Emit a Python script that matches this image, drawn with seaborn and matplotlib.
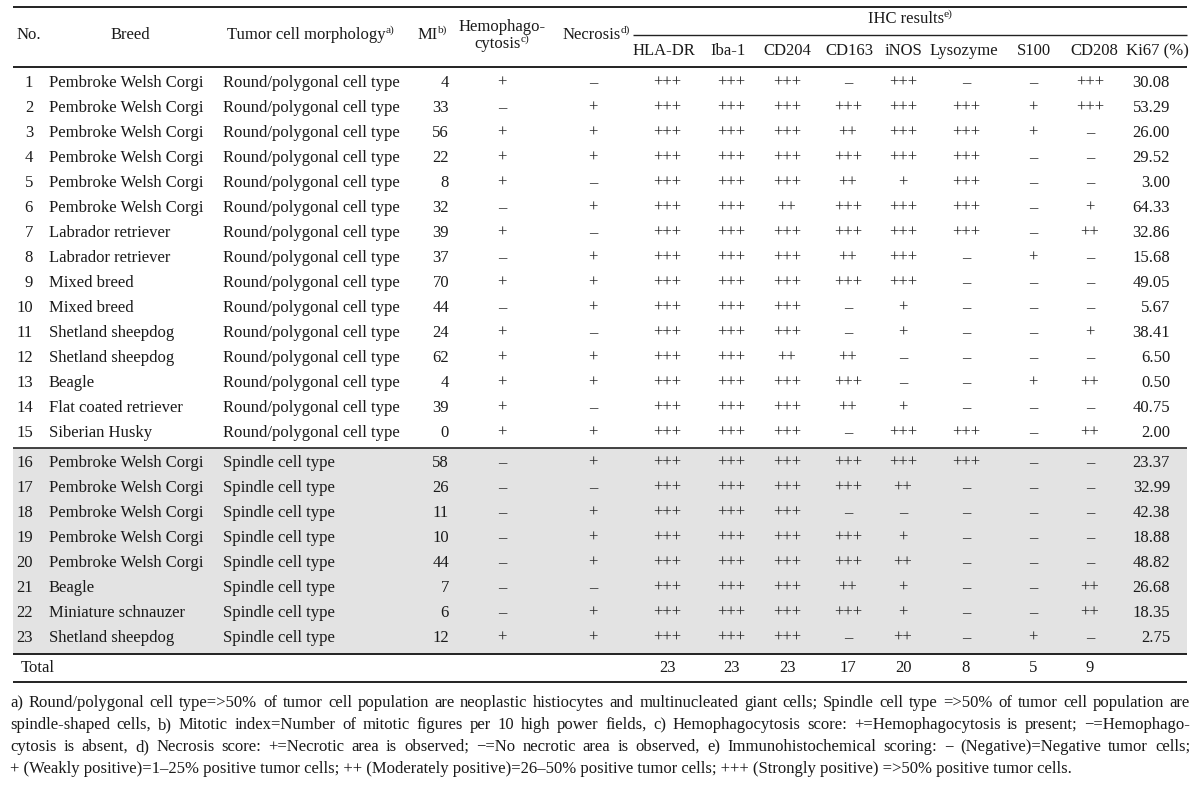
import matplotlib
matplotlib.use("Agg")
import matplotlib.pyplot as plt
import seaborn as sns
import pandas as pd
from matplotlib.patches import Rectangle

sns.set_theme(style="white")
plt.rcParams["font.family"] = ["Liberation Serif", "DejaVu Serif"]

# ---------------- data ----------------
case_no = [1, 2, 3, 4, 5, 6, 7, 8, 9, 10, 11, 12, 13, 14, 15, 16, 17, 18, 19, 20, 21, 22, 23]
breeds = ["Pembroke Welsh Corgi", "Pembroke Welsh Corgi", "Pembroke Welsh Corgi",
          "Pembroke Welsh Corgi", "Pembroke Welsh Corgi", "Pembroke Welsh Corgi",
          "Labrador retriever", "Labrador retriever", "Mixed breed", "Mixed breed",
          "Shetland sheepdog", "Shetland sheepdog", "Beagle", "Flat coated retriever",
          "Siberian Husky", "Pembroke Welsh Corgi", "Pembroke Welsh Corgi",
          "Pembroke Welsh Corgi", "Pembroke Welsh Corgi", "Pembroke Welsh Corgi",
          "Beagle", "Miniature schnauzer", "Shetland sheepdog"]
morphology = ["Round/polygonal cell type"] * 15 + ["Spindle cell type"] * 8
mitotic_index = [4, 33, 56, 22, 8, 32, 39, 37, 70, 44, 24, 62, 4, 39, 0,
                 58, 26, 11, 10, 44, 7, 6, 12]
hemophagocytosis = ["+", "–", "+", "+", "+", "–", "+", "–", "+", "–", "+", "+", "+", "+", "+",
                    "–", "–", "–", "–", "–", "–", "–", "+"]
necrosis = ["–", "+", "+", "+", "–", "+", "–", "+", "+", "+", "–", "+", "+", "–", "+",
            "+", "–", "+", "+", "+", "–", "+", "+"]
# IHC scores: 0 = –, 1 = +, 2 = ++, 3 = +++
hla_dr = [3, 3, 3, 3, 3, 3, 3, 3, 3, 3, 3, 3, 3, 3, 3, 3, 3, 3, 3, 3, 3, 3, 3]
iba1 = [3, 3, 3, 3, 3, 3, 3, 3, 3, 3, 3, 3, 3, 3, 3, 3, 3, 3, 3, 3, 3, 3, 3]
cd204 = [3, 3, 3, 3, 3, 2, 3, 3, 3, 3, 3, 2, 3, 3, 3, 3, 3, 3, 3, 3, 3, 3, 3]
cd163 = [0, 3, 2, 3, 2, 3, 3, 2, 3, 0, 0, 2, 3, 2, 0, 3, 3, 0, 3, 3, 2, 3, 0]
inos = [3, 3, 3, 3, 1, 3, 3, 3, 3, 1, 1, 0, 0, 1, 3, 3, 2, 0, 1, 2, 1, 1, 2]
lysozyme = [0, 3, 3, 3, 3, 3, 3, 0, 0, 0, 0, 0, 0, 0, 3, 3, 0, 0, 0, 0, 0, 0, 0]
s100 = [0, 1, 1, 0, 0, 0, 0, 1, 0, 0, 0, 0, 1, 0, 0, 0, 0, 0, 0, 0, 0, 0, 1]
cd208 = [3, 3, 0, 0, 0, 1, 2, 0, 0, 0, 1, 0, 2, 0, 2, 0, 0, 0, 0, 0, 2, 2, 0]
ki67 = [30.08, 53.29, 26.00, 29.52, 3.00, 64.33, 32.86, 15.68, 49.05, 5.67, 38.41, 6.50,
        0.50, 40.75, 2.00, 23.37, 32.99, 42.38, 18.88, 48.82, 26.68, 18.35, 2.75]
ihc_markers = ["HLA-DR", "Iba-1", "CD204", "CD163", "iNOS", "Lysozyme", "S100", "CD208"]
ihc_totals = [23, 23, 23, 17, 20, 8, 5, 9]
score_symbols = ["–", "+", "++", "+++"]

footnote_lines = [
    "a) Round/polygonal cell type=>50% of tumor cell population are neoplastic histiocytes and multinucleated giant cells; Spindle cell type =>50% of tumor cell population are",
    "spindle-shaped cells, b) Mitotic index=Number of mitotic figures per 10 high power fields, c) Hemophagocytosis score: +=Hemophagocytosis is present; −=Hemophago-",
    "cytosis is absent, d) Necrosis score: +=Necrotic area is observed; −=No necrotic area is observed, e) Immunohistochemical scoring: − (Negative)=Negative tumor cells;",
    "+ (Weakly positive)=1–25% positive tumor cells; ++ (Moderately positive)=26–50% positive tumor cells; +++ (Strongly positive) =>50% positive tumor cells.",
]

df = pd.DataFrame({
    "No.": case_no, "Breed": breeds, "Morphology": morphology, "MI": mitotic_index,
    "Hemo": hemophagocytosis, "Necrosis": necrosis,
    "HLA-DR": hla_dr, "Iba-1": iba1, "CD204": cd204, "CD163": cd163, "iNOS": inos,
    "Lysozyme": lysozyme, "S100": s100, "CD208": cd208, "Ki67": ki67,
})

# ---------------- layout ----------------
W, H = 1200, 790
fig = plt.figure(figsize=(W / 100, H / 100), dpi=100)
ax = fig.add_axes([0, 0, 1, 1])
ax.set_xlim(0, W)
ax.set_ylim(H, 0)
ax.axis("off")

FS = 12
TXT = "#1a1a1a"
SYM = "#2a2a2a"
XL, XR = 13, 1187

fig.canvas.draw()
renderer = fig.canvas.get_renderer()


def width_of(s, size):
    t = ax.text(0, 0, s, fontsize=size)
    w = t.get_window_extent(renderer).width
    t.remove()
    return w


def sup_text(x, y, base, sup, ha="center", size=FS):
    wb = width_of(base, size)
    ws = width_of(sup, size * 0.68)
    total = wb + ws
    if ha == "center":
        x0 = x - total / 2
    elif ha == "right":
        x0 = x - total
    else:
        x0 = x
    ax.text(x0, y, base, fontsize=size, ha="left", va="center", color=TXT)
    ax.text(x0 + wb, y - 5, sup, fontsize=size * 0.68, ha="left", va="center", color=TXT)


# row positions
row_y = [83 + 25 * i for i in range(15)] + [463 + 25 * i for i in range(8)]
total_y = 668

# gray band for spindle type
ax.add_patch(Rectangle((XL, 448), XR - XL, 654 - 448, facecolor="#e3e3e3",
                       edgecolor="none", zorder=0))

# rules
ax.hlines(7, XL, XR, color="#222222", lw=1.4)
ax.hlines(35, 633, XR, color="#222222", lw=1.0)
ax.hlines(67, XL, XR, color="#222222", lw=1.4)
ax.hlines(448, XL, XR, color="#222222", lw=1.2)
ax.hlines(654, XL, XR, color="#222222", lw=1.4)
ax.hlines(682, XL, XR, color="#222222", lw=1.4)

# headers
hy = 35
ax.text(29, hy, "No.", fontsize=FS, ha="center", va="center", color=TXT)
ax.text(130, hy, "Breed", fontsize=FS, ha="center", va="center", color=TXT)
sup_text(311, hy, "Tumor cell morphology", "a)")
sup_text(432, hy, "MI", "b)")
ax.text(502, 27, "Hemophago-", fontsize=FS, ha="center", va="center", color=TXT)
sup_text(502, 44, "cytosis", "c)")
sup_text(596, hy, "Necrosis", "d)")
sup_text(910, 19, "IHC results", "e)")

ihc_x = [667, 731, 787, 848, 903, 966, 1033, 1090]
ihc_hx = [664, 728, 787, 849, 903, 964, 1034, 1094]
for name, xh in zip(ihc_markers, ihc_hx):
    ax.text(xh, 51, name, fontsize=FS, ha="center", va="center", color=TXT)
ax.text(1157, 51, "Ki67 (%)", fontsize=FS, ha="center", va="center", color=TXT)

# body
for i, row in df.iterrows():
    y = row_y[i]
    ax.text(33, y, str(row["No."]), fontsize=FS, ha="right", va="center", color=TXT)
    ax.text(49, y, row["Breed"], fontsize=FS, ha="left", va="center", color=TXT)
    ax.text(223, y, row["Morphology"], fontsize=FS, ha="left", va="center", color=TXT)
    ax.text(449, y, str(row["MI"]), fontsize=FS, ha="right", va="center", color=TXT)
    ax.text(502, y, row["Hemo"], fontsize=FS, ha="center", va="center", color=SYM)
    ax.text(593, y, row["Necrosis"], fontsize=FS, ha="center", va="center", color=SYM)
    for name, xc in zip(ihc_markers, ihc_x):
        ax.text(xc, y, score_symbols[row[name]], fontsize=FS, ha="center",
                va="center", color=SYM)
    ax.text(1170, y, f"{row['Ki67']:.2f}", fontsize=FS, ha="right", va="center", color=TXT)

# total row
ax.text(21, total_y, "Total", fontsize=FS, ha="left", va="center", color=TXT)
for tot, xc in zip(ihc_totals, ihc_x):
    ax.text(xc, total_y, str(tot), fontsize=FS, ha="center", va="center", color=TXT)

# footnotes (justified)
FX0, FX1 = 10, 1190
target = FX1 - FX0
fsz = FS
while width_of(footnote_lines[0], fsz) > target - 4 and fsz > 6:
    fsz -= 0.1
foot_y = [703, 725, 747, 769]
for k, (line, y) in enumerate(zip(footnote_lines, foot_y)):
    if k == len(footnote_lines) - 1:
        ax.text(FX0, y, line, fontsize=fsz, ha="left", va="center", color=TXT)
        continue
    words = line.split(" ")
    ws = [width_of(w, fsz) for w in words]
    gap = (target - sum(ws)) / (len(words) - 1)
    x = FX0
    for w, wd in zip(words, ws):
        ax.text(x, y, w, fontsize=fsz, ha="left", va="center", color=TXT)
        x += wd + gap

fig.savefig("out.png", dpi=100)
